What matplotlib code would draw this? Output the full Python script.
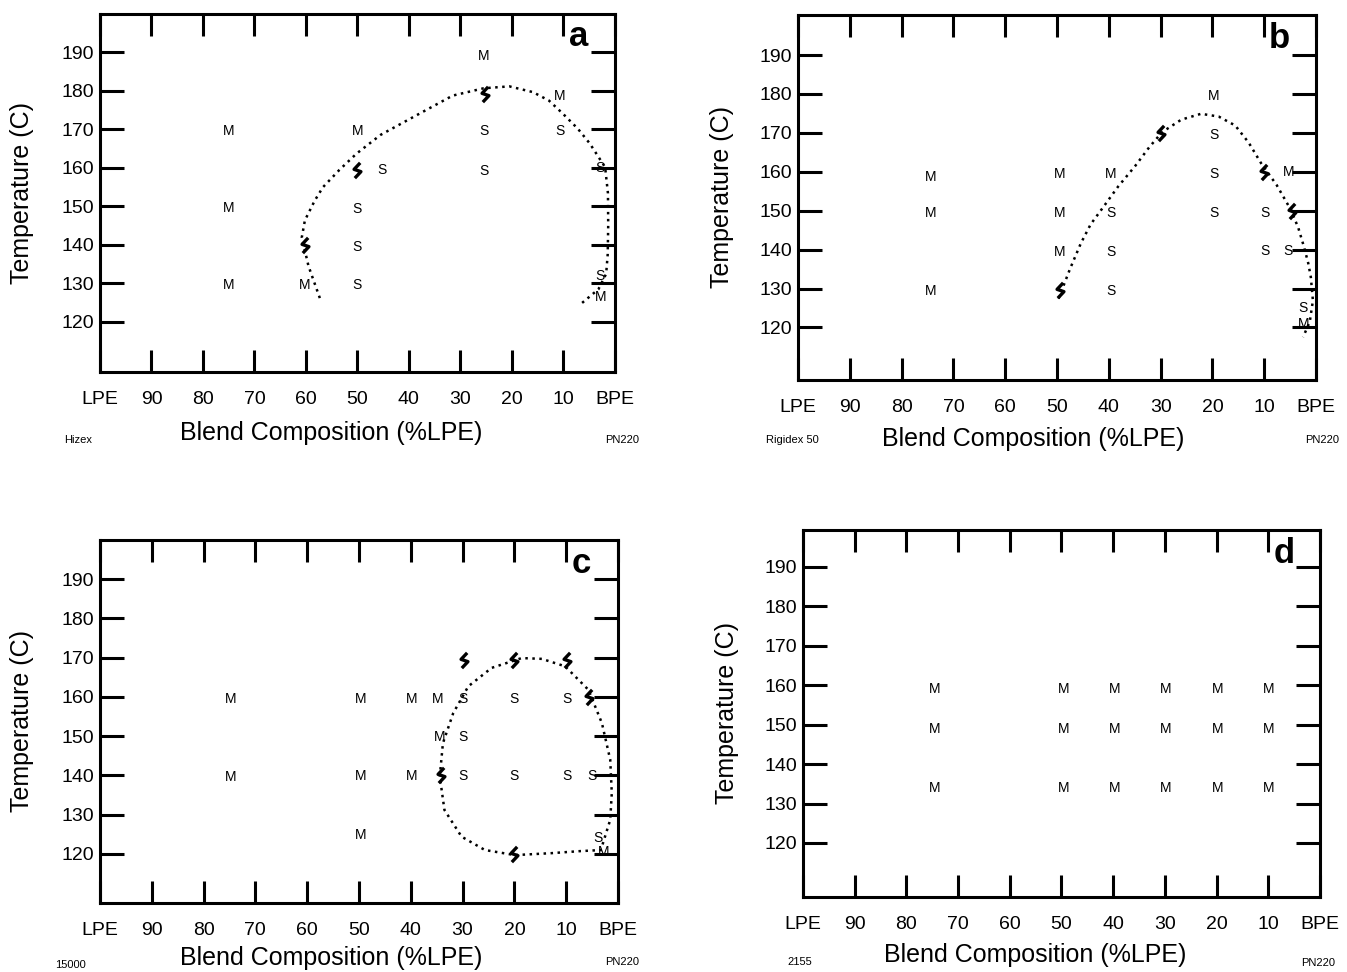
import matplotlib
matplotlib.use('Agg')
import matplotlib.pyplot as plt
from matplotlib.path import Path

plt.rcParams['font.family'] = ['Liberation Sans', 'DejaVu Sans']

# ---- data (x = % LPE, y = temperature C) ----
xtick_vals = [100, 90, 80, 70, 60, 50, 40, 30, 20, 10, 0]
xtick_labels = ['LPE', '90', '80', '70', '60', '50', '40', '30', '20', '10', 'BPE']
ytick_vals = [120, 130, 140, 150, 160, 170, 180, 190]

# panel a (Hizex)
a_m_x = [75, 75, 75, 50, 25.4, 10.7, 60.2, 2.7]
a_m_y = [169.5, 149.5, 129.6, 169.5, 189.2, 178.8, 129.6, 126.5]
a_s_x = [50, 50, 50, 45.2, 25.4, 25.4, 10.7, 2.9, 2.9]
a_s_y = [149.3, 139.4, 129.6, 159.4, 169.5, 159.1, 169.5, 159.9, 131.9]
a_z_x = [25.2, 50, 60.2]
a_z_y = [179.3, 159.4, 140]
a_curve_x = [57.3, 59.5, 60.8, 60.2, 58.3, 56.7, 53.5, 50.2, 45.5, 39.2, 31.5, 25.5, 20.5,
             15.9, 12.8, 10.1, 7.2, 4.9, 1.9, 1.35, 1.3, 1.4, 1.7, 3.2, 6.5]
a_curve_y = [126.2, 134.5, 142, 146.4, 151.5, 155, 159.5, 163.7, 168.6, 173.2, 178.8, 180.7, 181.2,
             179.7, 177.5, 174.1, 170.2, 166.4, 160.2, 153.4, 145, 137.5, 132.5, 128.5, 124.8]

# panel b (Rigidex 50)
b_m_x = [74.3, 74.3, 74.3, 49.4, 49.4, 49.4, 39.6, 19.7, 5.2, 2.3]
b_m_y = [158.7, 149.5, 129.4, 159.5, 149.5, 139.5, 159.5, 179.6, 160, 121]
b_s_x = [39.6, 39.6, 39.6, 19.7, 19.7, 19.7, 9.8, 9.8, 5.4, 2.5]
b_s_y = [149.5, 139.5, 129.4, 169.5, 159.5, 149.5, 149.5, 139.7, 139.7, 124.9]
b_z_x = [49.4, 30, 10, 4.6]
b_z_y = [129.7, 170, 160, 150]
b_curve_x = [49.7, 47.5, 45.4, 43.5, 41.3, 38.2, 34.9, 32.2, 29.7, 26, 22.2, 18.8, 15.6,
             13, 10.6, 7.6, 4.8, 3.4, 2.3, 1.5, 1, 0.6, 1.2, 2.5]
b_curve_y = [127.4, 135, 141.6, 146.5, 150.5, 156.2, 161.5, 166.3, 170.2, 173.4, 174.9, 174.2, 171.9,
             167.5, 162.2, 156.6, 150.1, 145.5, 140.6, 136.5, 132.9, 126.9, 121.5, 117.5]

# panel c (15000)
c_m_x = [74.8, 74.8, 49.6, 49.6, 49.6, 39.9, 39.9, 34.9, 34.5, 2.7]
c_m_y = [159.5, 139.6, 159.5, 139.9, 124.8, 159.5, 139.9, 159.5, 149.8, 120.5]
c_s_x = [30, 30, 30, 20, 20, 9.9, 9.9, 5, 3.9]
c_s_y = [159.5, 149.8, 139.9, 159.5, 139.9, 159.5, 139.9, 139.9, 124]
c_z_x = [29.8, 20, 9.9, 5.6, 34.1, 20]
c_z_y = [169.5, 169.5, 169.5, 160, 140.2, 120]
c_curve_x = [3.1, 7.5, 12.8, 19.9, 25.7, 30.2, 33.5, 34.4, 33.8, 31.8, 28.9, 24.4, 18.6,
             14.7, 10.2, 5.7, 3.1, 1.5, 1.2, 1.5, 3.1]
c_curve_y = [121, 120.7, 120.2, 119.7, 121, 124.4, 131.2, 139.7, 148.2, 155.9, 162.7, 167.4, 169.9,
             169.7, 167.8, 161.8, 153.3, 144, 135.5, 128.7, 121.9]

# panel d (2155)
d_m_x = [74.6, 49.6, 39.8, 29.8, 19.8, 10] * 3
d_m_y = [159] * 6 + [149] * 6 + [134] * 6

panels = [
    dict(letter='a', pos=[0.0742, 0.6173, 0.3823, 0.3683], ylim=(107, 200),
         mx=a_m_x, my=a_m_y, sx=a_s_x, sy=a_s_y, zx=a_z_x, zy=a_z_y,
         cx=a_curve_x, cy=a_curve_y, name='Hizex', name_xy=(78, 440), pn_xy=(622, 440),
         xlab=(0.449, -0.17), ylab=-0.151),
    dict(letter='b', pos=[0.5924, 0.6091, 0.3846, 0.3755], ylim=(106.5, 200.3),
         mx=b_m_x, my=b_m_y, sx=b_s_x, sy=b_s_y, zx=b_z_x, zy=b_z_y,
         cx=b_curve_x, cy=b_curve_y, name='Rigidex 50', name_xy=(792, 440), pn_xy=(1322, 440),
         xlab=(0.454, -0.162), ylab=-0.147),
    dict(letter='c', pos=[0.0742, 0.0710, 0.3846, 0.3735], ylim=(107.5, 200),
         mx=c_m_x, my=c_m_y, sx=c_s_x, sy=c_s_y, zx=c_z_x, zy=c_z_y,
         cx=c_curve_x, cy=c_curve_y, name='15000', name_xy=(70, 965), pn_xy=(622, 962),
         xlab=(0.446, -0.152), ylab=-0.151),
    dict(letter='d', pos=[0.5961, 0.0772, 0.3838, 0.3776], ylim=(106.3, 199.4),
         mx=d_m_x, my=d_m_y, sx=[], sy=[], zx=[], zy=[],
         cx=[], cy=[], name='2155', name_xy=(800, 962), pn_xy=(1318, 963),
         xlab=(0.449, -0.158), ylab=-0.147),
]

# zigzag "break" marker
zig = Path([(0.35, 1.0), (-0.45, 0.15), (0.45, -0.15), (-0.35, -1.0)],
           [Path.MOVETO, Path.LINETO, Path.LINETO, Path.LINETO])

W, H = 1347, 972
fig = plt.figure(figsize=(W / 100, H / 100), dpi=100)

for p in panels:
    ax = fig.add_axes(p['pos'])
    ax.set_xlim(100, 0)
    ax.set_ylim(*p['ylim'])
    for s in ax.spines.values():
        s.set_linewidth(2.2)

    ax.set_xticks(xtick_vals)
    ax.set_xticklabels(xtick_labels)
    ax.set_yticks(ytick_vals)
    ax.tick_params(axis='x', direction='in', top=True, bottom=True, length=16, width=2.2,
                   labelsize=14, pad=14)
    ax.tick_params(axis='y', direction='in', left=True, right=True, length=17, width=2.2,
                   labelsize=14, pad=4)

    ax.set_ylabel('Temperature (C)', fontsize=18, va='center', ha='center')
    ax.yaxis.set_label_coords(p['ylab'], 0.5)
    ax.set_xlabel('Blend Composition (%LPE)', fontsize=18, va='center')
    ax.xaxis.set_label_coords(*p['xlab'])

    # phase boundary
    if p['cx']:
        ax.plot(p['cx'], p['cy'], color='black', lw=1.8, linestyle=(0, (1, 1.8)))
    # M / S observations
    for x, y in zip(p['mx'], p['my']):
        ax.text(x, y, 'M', fontsize=10, ha='center', va='center')
    for x, y in zip(p['sx'], p['sy']):
        ax.text(x, y, 'S', fontsize=10, ha='center', va='center')
    if p['zx']:
        ax.plot(p['zx'], p['zy'], linestyle='none', marker=zig, markersize=11,
                markeredgewidth=2.4, markerfacecolor='none', color='black')

    ax.text(0.93, 0.91, p['letter'], transform=ax.transAxes, fontsize=25,
            fontweight='bold', ha='center', va='baseline')

    fig.text(p['name_xy'][0] / W, 1 - p['name_xy'][1] / H, p['name'], fontsize=8,
             ha='center', va='center')
    fig.text(p['pn_xy'][0] / W, 1 - p['pn_xy'][1] / H, 'PN220', fontsize=8,
             ha='center', va='center')

fig.savefig('out.png', dpi=100)
